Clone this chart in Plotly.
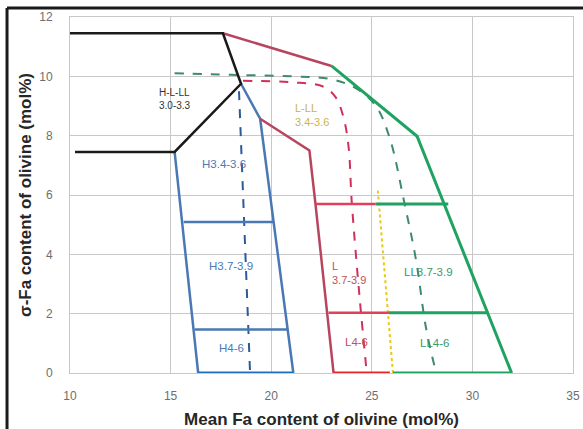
import plotly.graph_objects as go

# ---- data ----
black_x = [10.25, 15.2, 18.5, 17.6, 10.0]
black_y = [7.45, 7.45, 9.75, 11.45, 11.45]

red_top_x = [17.6, 23.0]
red_top_y = [11.45, 10.35]

green_outer_x = [23.0, 27.25, 31.95]
green_outer_y = [10.35, 7.98, 0.0]

red_outer_x = [19.45, 21.9, 22.2, 23.1]
red_outer_y = [8.57, 7.5, 5.7, 0.0]

red_h1_x = [22.2, 25.2]
red_h1_y = [5.7, 5.7]
green_h1_x = [25.2, 28.8]
green_h1_y = [5.7, 5.7]

red_h2_x = [22.85, 25.85]
red_h2_y = [2.03, 2.03]
green_h2_x = [25.85, 30.8]
green_h2_y = [2.03, 2.03]

red_bot_x = [23.1, 25.9]
red_bot_y = [0.0, 0.0]
green_bot_x = [26.05, 31.95]
green_bot_y = [0.0, 0.0]

blue_right_x = [18.5, 19.45, 21.1]
blue_right_y = [9.75, 8.57, 0.0]
blue_left_x = [15.2, 16.37]
blue_left_y = [7.45, 0.0]
blue_h1_x = [15.65, 20.1]
blue_h1_y = [5.09, 5.09]
blue_h2_x = [16.2, 20.85]
blue_h2_y = [1.47, 1.47]
blue_bot_x = [16.37, 21.1]
blue_bot_y = [0.0, 0.0]

blue_dash_x = [18.4, 18.95]
blue_dash_y = [9.5, 0.0]

yellow_dot_x = [25.3, 26.05]
yellow_dot_y = [6.15, 0.0]

green_dash_x = [15.2, 18.0, 21.0, 23.0, 24.2, 25.2, 25.9, 26.6, 27.2, 27.7, 28.2]
green_dash_y = [10.1, 10.05, 10.0, 9.9, 9.6, 9.0, 7.9, 5.8, 3.8, 1.5, 0.0]

red_dash_x = [18.6, 21.0, 22.6, 23.2, 23.6, 23.85, 24.0, 24.4, 24.75]
red_dash_y = [9.85, 9.8, 9.65, 9.3, 8.6, 7.6, 5.8, 2.5, 0.0]

labels = ["H-L-LL<br>3.0-3.3", "L-LL<br>3.4-3.6", "H3.4-3.6", "H3.7-3.9", "H4-6",
          "L<br>3.7-3.9", "L4-6", "LL3.7-3.9", "LL4-6"]
label_x = [14.33, 21.1, 16.47, 16.82, 17.3, 22.94, 23.58, 26.5, 27.3]
label_y = [9.23, 8.71, 7.06, 3.6, 0.83, 3.36, 1.04, 3.39, 1.0]
label_sizes = [10, 11, 11.5, 11.5, 11.5, 11, 11.5, 11.5, 11.5]
label_colors = ["#333333", "#c9b54a", "#4a7ab8", "#4a7ab8", "#4a7ab8",
                "#c0505a", "#c0505a", "#3a9a6a", "#3a9a6a"]

x_ticks = [10, 15, 20, 25, 30, 35]
y_ticks = [0, 2, 4, 6, 8, 10, 12]

BLACK = "#1a1a1a"
RED_DARK = "#b8455e"
RED = "#e0405a"
RED_BRIGHT = "#e82828"
GREEN = "#1fa262"
BLUE = "#4a78b4"
BLUE_BRIGHT = "#2070c0"

fig = go.Figure()

def line(x, y, color, width=2.5, dash="solid", shape="linear"):
    fig.add_trace(go.Scatter(x=x, y=y, mode="lines", hoverinfo="skip",
                             line=dict(color=color, width=width, dash=dash, shape=shape)))

line(green_dash_x, green_dash_y, "#3e8a6e", 2, "dash", "spline")
line(red_dash_x, red_dash_y, "#d0305a", 2, "dash", "spline")
line(blue_dash_x, blue_dash_y, "#2a5a9a", 2, "dash")
line(yellow_dot_x, yellow_dot_y, "#e8c81a", 2, "dot")

line(blue_left_x, blue_left_y, BLUE)
line(blue_right_x, blue_right_y, BLUE)
line(blue_h1_x, blue_h1_y, BLUE)
line(blue_h2_x, blue_h2_y, BLUE)
line(blue_bot_x, blue_bot_y, BLUE_BRIGHT, 3)

line(red_top_x, red_top_y, RED_DARK)
line(red_outer_x, red_outer_y, RED_DARK)
line(red_h1_x, red_h1_y, RED)
line(red_h2_x, red_h2_y, RED)
line(red_bot_x, red_bot_y, RED_BRIGHT, 3)

line(green_outer_x, green_outer_y, GREEN, 3)
line(green_h1_x, green_h1_y, GREEN, 3)
line(green_h2_x, green_h2_y, GREEN, 3)
line(green_bot_x, green_bot_y, GREEN, 3)

line(black_x, black_y, BLACK, 2.5)

for t, lx, ly, s, c in zip(labels, label_x, label_y, label_sizes, label_colors):
    fig.add_annotation(x=lx, y=ly, xref="x", yref="y", text=t, showarrow=False,
                       xanchor="left", yanchor="middle", align="left",
                       font=dict(family="Liberation Sans", size=s, color=c))

# outer frame (left and top edges visible)
fig.add_shape(type="line", xref="paper", yref="paper", x0=-0.1252, x1=1.05,
              y0=1.0253, y1=1.0253, line=dict(color="#1a1a1a", width=3))
fig.add_shape(type="line", xref="paper", yref="paper", x0=-0.1252, x1=-0.1252,
              y0=1.0253, y1=-0.2, line=dict(color="#1a1a1a", width=3))

axis_common = dict(showgrid=True, gridcolor="#c8c8c8", gridwidth=1,
                   showline=True, linecolor="#c8c8c8", linewidth=1, mirror=True,
                   zeroline=False, ticks="outside", tickcolor="rgba(0,0,0,0)",
                   automargin=False,
                   tickfont=dict(family="Liberation Sans", size=12, color="#6e6e6e"))

fig.update_layout(
    width=583, height=429,
    margin=dict(l=70, r=10, t=17, b=56),
    paper_bgcolor="white", plot_bgcolor="white",
    showlegend=False,
    xaxis=dict(range=[10, 35], tickvals=x_ticks, ticklen=12,
               title=dict(text="<b>Mean Fa content of olivine (mol%)</b>", standoff=11,
                          font=dict(family="Liberation Sans", size=17, color="#262626")),
               **axis_common),
    yaxis=dict(range=[0, 12], tickvals=y_ticks, ticklen=14,
               title=dict(text="<b>σ-Fa content of olivine (mol%)</b>", standoff=3,
                          font=dict(family="Liberation Sans", size=17, color="#262626")),
               **axis_common),
)

fig.write_html("out.html", config={"displayModeBar": False},
               post_script="document.body.style.margin='0';document.body.style.overflow='hidden';")
